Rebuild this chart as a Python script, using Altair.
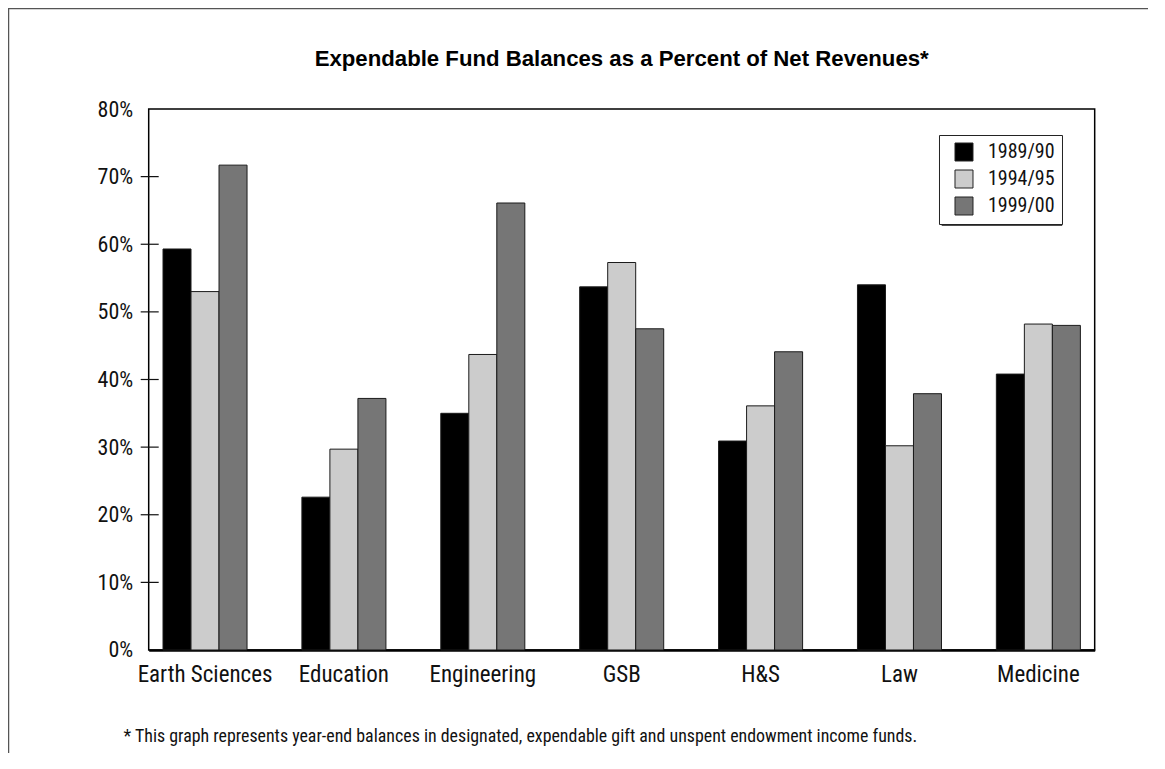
import altair as alt
import pandas as pd

categories = ["Earth Sciences", "Education", "Engineering", "GSB", "H&S", "Law", "Medicine"]
years = ["1989/90", "1994/95", "1999/00"]
vals_8990 = [59.3, 22.6, 35.0, 53.7, 30.9, 54.0, 40.8]
vals_9495 = [53.0, 29.7, 43.7, 57.3, 36.1, 30.2, 48.2]
vals_9900 = [71.7, 37.2, 66.1, 47.5, 44.1, 37.9, 48.0]
colors = ["#000000", "#cccccc", "#767676"]
y_label_values = [0, 10, 20, 30, 40, 50, 60, 70, 80]
y_tick_values = [10, 20, 30, 40, 50, 60, 70]
title_text = "Expendable Fund Balances as a Percent of Net Revenues*"
footnote = "* This graph represents year-end balances in designated, expendable gift and unspent endowment income funds."

rows = []
for yr, series in zip(years, [vals_8990, vals_9495, vals_9900]):
    for c, v in zip(categories, series):
        rows.append({"dept": c, "year": yr, "pct": v})
df = pd.DataFrame(rows)
ticks_df = pd.DataFrame({"t": y_tick_values})
one = pd.DataFrame({"a": [0]})

COND = "Roboto Condensed, DejaVu Sans Condensed, sans-serif"

yscale = alt.Scale(domain=[0, 80], nice=False, zero=True)
yaxis = alt.Axis(values=y_label_values, labelExpr="datum.value + '%'", ticks=False,
                 domain=False, grid=False, labelFontSize=22, labelFont=COND,
                 labelColor="#111", labelPadding=16, title=None)

bars = alt.Chart(df).mark_bar(stroke="#1a1a1a", strokeWidth=1).encode(
    x=alt.X("dept:N", sort=categories,
            scale=alt.Scale(paddingInner=0.395, paddingOuter=0.103),
            axis=alt.Axis(labelAngle=0, ticks=False, labelFontSize=23, labelFont=COND,
                          labelColor="#111", labelPadding=14, domainColor="#000", domainWidth=2.5,
                          title=footnote, titleFont=COND, titleFontSize=17.9, titleFontWeight="normal",
                          titleColor="#111", titleAlign="left", titleAnchor="start",
                          titleBaseline="alphabetic", titleX=-25.7, titleY=92)),
    xOffset=alt.XOffset("year:N", sort=years, scale=alt.Scale(paddingInner=0, paddingOuter=0)),
    y=alt.Y("pct:Q", scale=yscale, axis=yaxis),
    color=alt.Color("year:N", sort=years, scale=alt.Scale(domain=years, range=colors),
                    legend=alt.Legend(title=None, orient="none", legendX=790.3, legendY=26,
                                      padding=7, symbolOffset=8, symbolType="square",
                                      symbolSize=324, symbolStrokeColor="#222", symbolStrokeWidth=1,
                                      labelFont=COND, labelFontSize=20, labelColor="#111",
                                      labelOffset=14, rowPadding=5, strokeColor="#222",
                                      fillColor="#ffffff")),
)

yticks = alt.Chart(ticks_df).mark_rule(color="#111", strokeWidth=1.2).encode(
    y=alt.Y("t:Q", scale=yscale, axis=yaxis),
    x=alt.value(-8),
    x2=alt.value(10),
)

frame = alt.Chart(one).mark_rect(fillOpacity=0, stroke="#555", strokeWidth=1.5).encode(
    x=alt.value(-140.2), y=alt.value(-100.5), x2=alt.value(1200), y2=alt.value(900)
)

shadow = alt.Chart(one).mark_rect(color="#111").encode(
    x=alt.value(793), y=alt.value(29), x2=alt.value(913.5), y2=alt.value(116.8)
)

title = alt.Chart(one).mark_text(font="Liberation Sans, Arial, sans-serif", fontSize=22.2,
                                 fontWeight="bold", color="#000", align="center",
                                 baseline="alphabetic").encode(
    x=alt.value(473), y=alt.value(-43), text=alt.value(title_text)
)

chart = alt.layer(frame, shadow, bars, yticks, title).properties(
    width=946, height=541,
    padding={"left": 140.7, "top": 101, "right": 53, "bottom": 103},
    autosize=alt.AutoSizeParams(type="none"),
).configure_view(stroke="#000", strokeWidth=1.5)

chart.save("out.html", embed_options={"renderer": "svg", "actions": False})
